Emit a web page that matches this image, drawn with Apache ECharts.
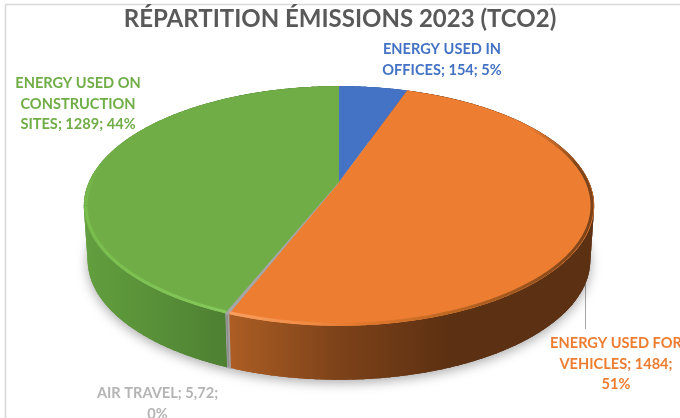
<!DOCTYPE html>
<html><head><meta charset="utf-8">
<style>html,body{margin:0;padding:0;background:#fff}#c{width:680px;height:418px;filter:blur(0.55px)}</style>
<script src="https://cdn.jsdelivr.net/npm/echarts@6/dist/echarts.min.js"></script>
</head><body><div id="c"></div>
<script>
const chartTitle = 'RÉPARTITION ÉMISSIONS 2023 (TCO2)';
const categories = ['ENERGY USED IN OFFICES', 'ENERGY USED FOR VEHICLES', 'AIR TRAVEL', 'ENERGY USED ON CONSTRUCTION SITES'];
const values = [154, 1484, 5.72, 1289];
const labelTexts = ['ENERGY USED IN\nOFFICES; 154; 5%', 'ENERGY USED FOR\nVEHICLES; 1484;\n51%', 'AIR TRAVEL; 5,72;\n0%', 'ENERGY USED ON\nCONSTRUCTION\nSITES; 1289; 44%'];
const labelColors = ['#4472C4', '#ED7D31', '#B4B4B4', '#70AD47'];
const labelCentres = [[442, 60], [616, 364], [157.5, 403.5], [78, 104]];
const topColors = ['#4472C4', '#ED7D31', '#A5A5A5', '#70AD47'];

const cx = 339, cy = 182, a = 250, b = 115, k = 0.2, drop = 54, bottomScale = 0.985;
const wallStops = [
  [[0, '#3a5f9f'], [1, '#3a5f9f']],
  [[0.28, '#ad5e24'], [0.5, '#7d4219'], [0.72, '#5c3012'], [1, '#5c3012']],
  [[0, '#8f8f8f'], [1, '#8f8f8f']],
  [[0, '#629f3e'], [0.28, '#4e8032'], [1, '#4e8032']]
];
const rimStops = [
  null,
  [[0.28, '#f8a061'], [0.45, '#f08a43'], [0.52, '#e67a2f'], [0.72, '#bd6722'], [1, '#7a4219']],
  null,
  [[0, '#79bd4d'], [0.28, '#84c95a'], [1, '#84c95a']]
];
const rimLimits = [0, 0.55, 0, 0.15];
const rimFade = 0.35;

const total = values.reduce((s, v) => s + v, 0);
function project(t, r) {
  const u = Math.sin(t) * r, v = Math.cos(t) * r, w = 1 + k * v;
  return [cx + a * u / w, cy - b * v / w];
}
function arc(t0, t1, r) {
  const n = Math.max(2, Math.ceil((t1 - t0) / 0.01)), pts = [];
  for (let i = 0; i <= n; i++) pts.push(project(t0 + (t1 - t0) * i / n, r));
  return pts;
}
const lower = p => [cx + (p[0] - cx) * bottomScale, p[1] + drop];
const grad = stops => ({
  type: 'linear', x: cx - a - 5, y: 0, x2: cx + a + 5, y2: 0, global: true,
  colorStops: stops.map(s => ({ offset: s[0], color: s[1] }))
});

function renderSlice(params, api) {
  const i = params.dataIndex;
  let before = 0;
  for (let j = 0; j < i; j++) before += values[j];
  const t0 = before / total * 2 * Math.PI;
  const t1 = (before + api.value(0)) / total * 2 * Math.PI;
  const edge = arc(t0, t1, 1);
  const base = edge.map(lower);
  const wallFill = grad(wallStops[i]);
  const children = [
    { type: 'polygon', z2: 1, silent: true,
      shape: { points: [lower([cx, cy])].concat(base) },
      style: { fill: '#bbbbbb', shadowBlur: 12, shadowColor: 'rgba(0,0,0,0.34)', shadowOffsetY: 3 } },
    { type: 'polygon', z2: 2, silent: true,
      shape: { points: edge.concat(base.slice().reverse()) },
      style: { fill: wallFill, stroke: i === 2 ? '#a5a5a5' : null, lineWidth: 1.5 } },
    { type: 'polygon', z2: 3, silent: true,
      shape: { points: [[cx, cy]].concat(edge) },
      style: { fill: topColors[i], stroke: i === 2 ? '#a5a5a5' : null, lineWidth: 1 } }
  ];
  // short quads fill the outline where the wall turns out of sight at the sides
  for (let j = 0; j + 4 < edge.length; j += 3) {
    children.push({ type: 'polygon', z2: 2, silent: true,
      shape: { points: [edge[j], edge[j + 4], base[j + 4], base[j]] },
      style: { fill: wallFill } });
  }
  if (rimStops[i]) {
    const rimFill = grad(rimStops[i]);
    const n = Math.ceil((t1 - t0) / 0.01);
    const full = [];
    for (let j = 0; j <= n; j++) {
      const t = t0 + (t1 - t0) * j / n;
      const strength = (rimLimits[i] - Math.cos(t)) / rimFade;
      if (strength >= 1) full.push(project(t, 0.992));
      else if (strength > 0) {
        const t2 = t + (t1 - t0) / n;
        children.push({ type: 'polyline', z2: 4, silent: true,
          shape: { points: [project(t, 0.992), project(t2, 0.992)] },
          style: { fill: null, stroke: rimFill, lineWidth: 3, opacity: strength } });
      }
    }
    children.push({ type: 'polyline', z2: 4, silent: true,
      shape: { points: full },
      style: { fill: null, stroke: rimFill, lineWidth: 3 } });
  }
  return { type: 'group', children };
}

const chart = echarts.init(document.getElementById('c'), null, { renderer: 'canvas' });
chart.setOption({
  animation: false,
  backgroundColor: '#fff',
  title: { text: chartTitle, left: 'center', top: 2,
    textStyle: { fontFamily: 'Lato', fontWeight: 'bold', fontSize: 24, color: '#595959' } },
  series: [{ type: 'custom', coordinateSystem: 'none', renderItem: renderSlice,
    data: values.map((v, i) => ({ name: categories[i], value: [v] })) }],
  graphic: [
    { type: 'rect', silent: true, z: -1, shape: { x: 5.5, y: 4.5, width: 720, height: 460 },
      style: { fill: null, stroke: '#d9d9d9', lineWidth: 1.6 } },
    { type: 'line', silent: true, shape: { x1: 585.5, y1: 278, x2: 585.5, y2: 329 },
      style: { stroke: '#a6a6a6', lineWidth: 1 } }
  ].concat(labelTexts.map((t, i) => ({
    type: 'text', silent: true, x: labelCentres[i][0], y: labelCentres[i][1],
    style: { text: t, fill: labelColors[i], fontFamily: 'Lato', fontWeight: 'bold', fontSize: 14.6,
      lineHeight: 20.7, align: 'center', verticalAlign: 'middle' }
  })))
});
</script></body></html>
